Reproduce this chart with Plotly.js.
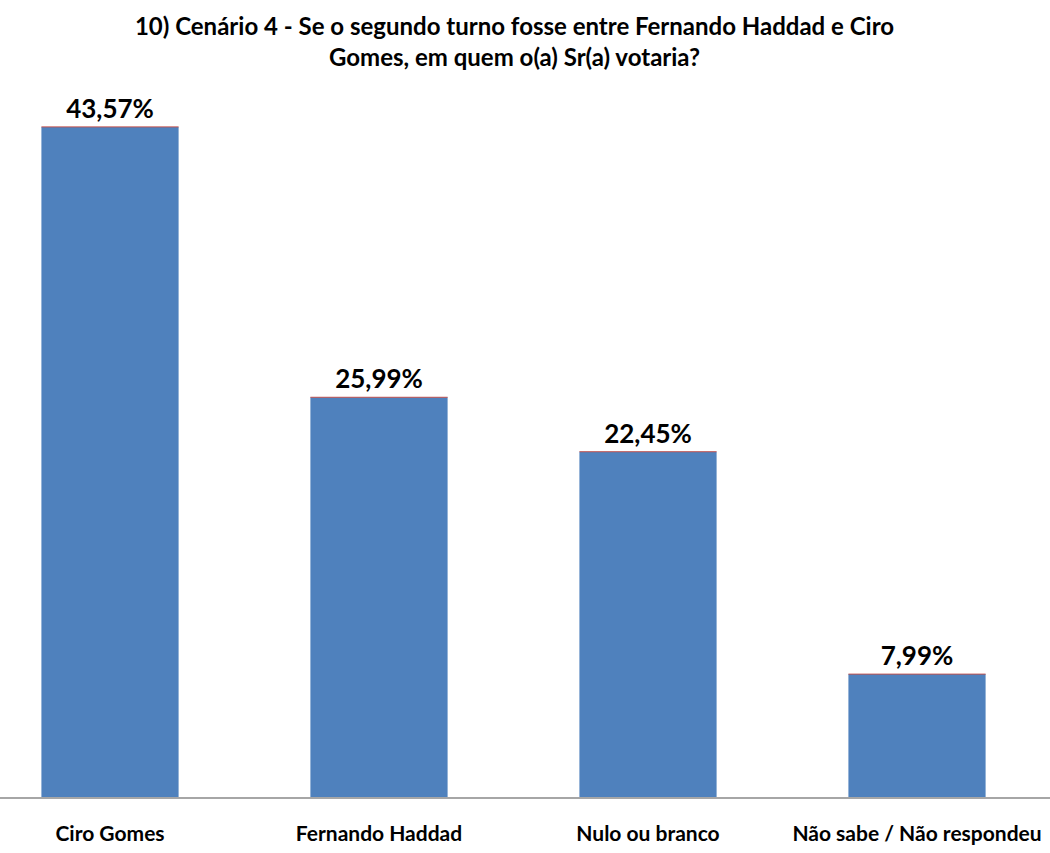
<!DOCTYPE html>
<html><head><meta charset="utf-8">
<script src="https://cdn.plot.ly/plotly-3.0.1.min.js"></script>
<style>html,body{margin:0;padding:0;background:#fff;}#chart{width:1050px;height:853px;}</style>
</head><body><div id="chart"></div>
<script>
const categories = ["Ciro Gomes", "Fernando Haddad", "Nulo ou branco", "Não sabe / Não respondeu"];
const values = [43.57, 25.99, 22.45, 7.99];
const labels = values.map(v => v.toFixed(2).replace('.', ',') + '%');
const titleText = "10) Cenário 4 - Se o segundo turno fosse entre Fernando Haddad e Ciro<br>Gomes, em quem o(a) Sr(a) votaria?";
const FONT = "Lato, 'Open Sans', sans-serif";
const barWidth = 0.51;

const shapes = values.map((v, i) => ({
  type: 'line', xref: 'x', yref: 'y',
  x0: i - barWidth / 2, x1: i + barWidth / 2, y0: v, y1: v,
  line: {color: '#C0504D', width: 1}
}));

Plotly.newPlot('chart', [{
  type: 'bar',
  x: [0, 1, 2, 3],
  y: values,
  width: barWidth,
  text: labels,
  textposition: 'outside',
  cliponaxis: false,
  textfont: {family: FONT, size: 26, color: '#000', weight: 'bold'},
  marker: {color: '#4F81BD', line: {width: 0}},
  hoverinfo: 'none'
}], {
  width: 1050, height: 853,
  margin: {l: 0, r: 0, t: 90, b: 56},
  paper_bgcolor: '#fff', plot_bgcolor: '#fff',
  title: {text: titleText, font: {family: FONT, size: 24, color: '#000', weight: 'bold'},
          x: 0.49, xanchor: 'center', xref: 'paper', yref: 'container', y: 1 - 35/853, yanchor: 'middle'},
  xaxis: {
    range: [-110/269, 940/269],
    tickmode: 'array', tickvals: [0, 1, 2, 3], ticktext: categories,
    tickfont: {family: FONT, size: 21, color: '#000', weight: 'bold'},
    showline: true, linecolor: '#A6A6A6', linewidth: 2,
    ticks: '', showgrid: false, zeroline: false, ticklabelstandoff: 17
  },
  yaxis: {range: [0, 707/15.38], visible: false, showgrid: false, zeroline: false},
  shapes: shapes,
  showlegend: false,
  bargap: 0.49
}, {displayModeBar: false, staticPlot: true});
</script></body></html>
